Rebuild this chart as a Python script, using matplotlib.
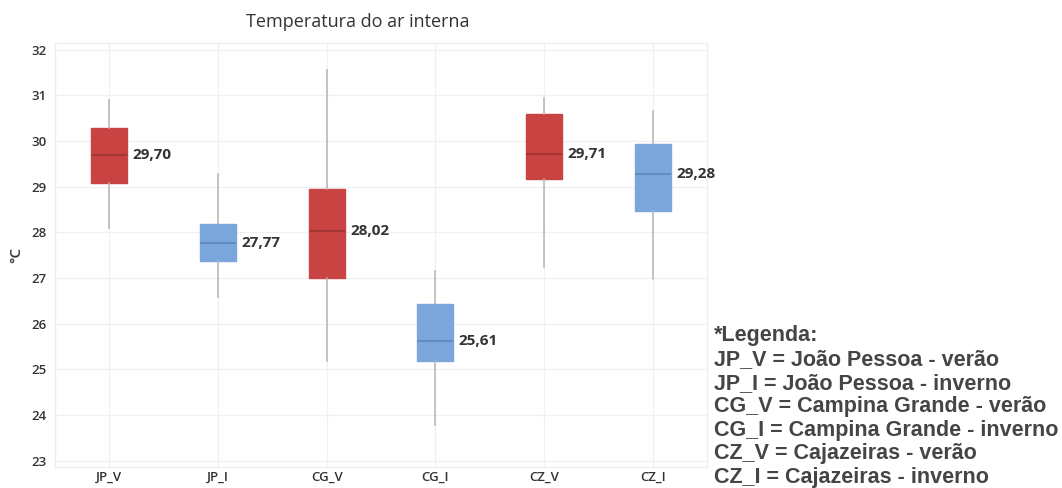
import matplotlib
matplotlib.use("Agg")
import matplotlib.pyplot as plt

# Indoor air temperature summary per city/season
categories = ["JP_V", "JP_I", "CG_V", "CG_I", "CZ_V", "CZ_I"]
whisker_low = [28.10, 26.59, 25.18, 23.78, 27.25, 26.97]
q1 = [29.09, 27.37, 27.00, 25.18, 29.17, 28.47]
median = [29.70, 27.77, 28.02, 25.61, 29.71, 29.28]
q3 = [30.28, 28.18, 28.95, 26.43, 30.59, 29.93]
whisker_high = [30.89, 29.28, 31.56, 27.15, 30.94, 30.65]
season = ["verão", "inverno", "verão", "inverno", "verão", "inverno"]

legend_lines = [
    "*Legenda:",
    "JP_V = João Pessoa - verão",
    "JP_I = João Pessoa - inverno",
    "CG_V = Campina Grande - verão",
    "CG_I = Campina Grande - inverno",
    "CZ_V = Cajazeiras - verão",
    "CZ_I = Cajazeiras - inverno",
]

colors = {"verão": "#C94343", "inverno": "#7AA6DC"}
median_colors = {"verão": "#9E3434", "inverno": "#5F86B8"}

fig = plt.figure(figsize=(10.62, 4.88), dpi=100)
ax = fig.add_axes([0.0518, 0.043, 0.6139, 0.869])

font = "Open Sans"

for i, cat in enumerate(categories):
    stats = [{
        "label": cat,
        "whislo": whisker_low[i],
        "q1": q1[i],
        "med": median[i],
        "q3": q3[i],
        "whishi": whisker_high[i],
        "fliers": [],
    }]
    ax.bxp(
        stats,
        positions=[i],
        widths=0.33,
        patch_artist=True,
        showcaps=False,
        boxprops=dict(facecolor=colors[season[i]], edgecolor=colors[season[i]], linewidth=1),
        medianprops=dict(color=median_colors[season[i]], linewidth=1.2),
        whiskerprops=dict(color="#B5B5B5", linewidth=1.1),
        zorder=3,
    )
    ax.text(i + 0.215, median[i], f"{median[i]:.2f}".replace(".", ","),
            ha="left", va="center", fontsize=11, fontweight="bold",
            color="#333333", family=font)

ax.set_xlim(-0.5, 5.5)
ax.set_ylim(22.86, 32.15)
ax.set_xticks(range(len(categories)))
ax.set_xticklabels(categories)
ax.set_yticks(range(23, 33))

for lbl in ax.get_xticklabels() + ax.get_yticklabels():
    lbl.set_family(font)
    lbl.set_fontweight("semibold")
    lbl.set_fontsize(9.5)
    lbl.set_color("#333333")

ax.tick_params(axis="y", length=0, pad=6)
ax.tick_params(axis="x", length=0, pad=2.5)
ax.grid(True, color="#F0F0F0", linewidth=0.9, zorder=0)
ax.set_axisbelow(True)
for sp in ax.spines.values():
    sp.set_color("#EEEEEE")
    sp.set_linewidth(1)

ax.set_ylabel("°C", family=font, fontsize=11, fontweight="semibold", color="#333333", labelpad=6)
fig.text(0.337, 0.955, "Temperatura do ar interna", ha="center", va="center",
         family=font, fontsize=13, color="#333333")

y0 = 1 - 336 / 488
step = 23.6 / 488
for k, line in enumerate(legend_lines):
    fig.text(714 / 1062, y0 - k * step, line, ha="left", va="center",
             family="Liberation Sans", fontweight="bold", fontsize=15.5, color="#454545")

fig.savefig("out.png", dpi=100)
